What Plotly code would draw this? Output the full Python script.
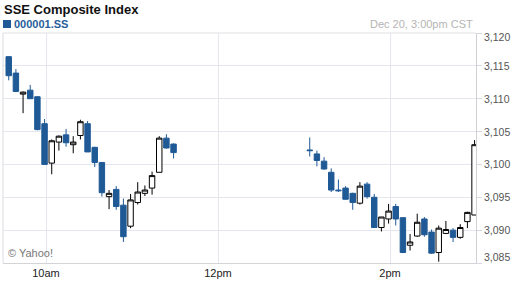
import pandas as pd
import plotly.graph_objects as go

# ---- data ----
day = "2016-12-20"
morning_bar_ends = ["09:35", "09:40", "09:45", "09:50", "09:55", "10:00", "10:05", "10:10",
                    "10:15", "10:20", "10:25", "10:30", "10:35", "10:40", "10:45", "10:50",
                    "10:55", "11:00", "11:05", "11:10", "11:15", "11:20", "11:25", "11:30"]
afternoon_bar_ends = ["13:05", "13:10", "13:15", "13:20", "13:25", "13:30", "13:35", "13:40",
                      "13:45", "13:50", "13:55", "14:00", "14:05", "14:10", "14:15", "14:20",
                      "14:25", "14:30", "14:35", "14:40", "14:45", "14:50", "14:55", "15:00"]

morning_open  = [3116.4, 3113.9, 3110.7, 3111.3, 3110.3, 3106.2, 3100.2, 3103.4, 3104.5, 3103.0, 3104.4, 3106.2,
                 3102.6, 3100.3, 3095.1, 3096.2, 3093.8, 3090.6, 3094.2, 3095.6, 3096.4, 3098.8, 3104.0, 3103.1]
morning_high  = [3116.5, 3114.5, 3111.1, 3112.1, 3110.4, 3106.9, 3103.8, 3104.4, 3105.4, 3104.3, 3106.8, 3106.6,
                 3102.7, 3100.3, 3096.1, 3096.7, 3094.8, 3095.5, 3097.3, 3096.8, 3098.9, 3104.3, 3104.6, 3103.2]
morning_low   = [3112.8, 3111.0, 3107.8, 3110.0, 3105.2, 3100.0, 3098.5, 3102.1, 3102.7, 3101.7, 3103.8, 3101.9,
                 3099.6, 3095.1, 3093.2, 3093.1, 3088.2, 3090.3, 3093.9, 3095.2, 3095.4, 3098.8, 3102.4, 3100.9]
morning_close = [3113.5, 3111.1, 3111.0, 3110.0, 3105.3, 3100.0, 3103.6, 3104.3, 3103.3, 3103.4, 3106.5, 3101.9,
                 3100.3, 3095.7, 3095.6, 3093.6, 3089.0, 3094.6, 3095.8, 3096.1, 3098.3, 3104.0, 3102.5, 3101.8]

afternoon_open  = [3102.2, 3101.6, 3100.5, 3098.8, 3096.1, 3096.4, 3095.6, 3094.1, 3097.0, 3095.0, 3090.4, 3091.7,
                   3093.6, 3091.9, 3087.7, 3089.1, 3091.7, 3089.7, 3086.6, 3089.5, 3090.0, 3088.9, 3091.3, 3092.3]
afternoon_high  = [3104.1, 3102.1, 3101.1, 3099.4, 3097.7, 3096.7, 3095.7, 3097.3, 3097.3, 3095.5, 3092.0, 3094.0,
                   3094.0, 3091.9, 3089.4, 3092.5, 3092.0, 3090.1, 3090.7, 3091.4, 3090.3, 3090.9, 3092.8, 3103.7]
afternoon_low   = [3101.2, 3099.7, 3099.2, 3095.8, 3095.8, 3094.6, 3093.1, 3093.9, 3094.8, 3090.4, 3089.8, 3091.0,
                   3090.7, 3086.5, 3086.9, 3089.0, 3089.0, 3086.4, 3085.2, 3089.4, 3088.2, 3088.7, 3090.3, 3092.3]
afternoon_close = [3102.1, 3100.6, 3099.3, 3096.1, 3096.0, 3094.7, 3094.2, 3096.7, 3095.1, 3090.4, 3092.0, 3092.9,
                   3091.7, 3086.6, 3088.2, 3091.2, 3089.3, 3086.5, 3090.3, 3090.1, 3088.9, 3090.4, 3092.7, 3103.0]

y_tick_values = [3085, 3090, 3095, 3100, 3105, 3110, 3115, 3120]
y_tick_labels = ["3,085", "3,090", "3,095", "3,100", "3,105", "3,110", "3,115", "3,120"]
x_tick_times = ["10:00", "12:00", "14:00"]
x_tick_labels = ["10am", "12pm", "2pm"]

title = "SSE Composite Index"
symbol = "000001.SS"
stamp = "Dec 20, 3:00pm CST"
credit = "© Yahoo!"

# ---- figure ----
BLUE = "#1f5a96"
ends = morning_bar_ends + afternoon_bar_ends
x = [pd.Timestamp(f"{day} {t}") - pd.Timedelta(minutes=1) for t in ends]

fig = go.Figure(go.Candlestick(
    x=x,
    open=morning_open + afternoon_open,
    high=morning_high + afternoon_high,
    low=morning_low + afternoon_low,
    close=morning_close + afternoon_close,
    increasing=dict(line=dict(color="#000000", width=1), fillcolor="#ffffff"),
    decreasing=dict(line=dict(color=BLUE, width=1), fillcolor=BLUE),
    whiskerwidth=0,
    showlegend=False,
    hoverinfo="skip",
))

FONT = "Liberation Sans, Arial, sans-serif"
fig.update_layout(
    width=512, height=288,
    margin=dict(l=3, r=36, t=33, b=25),
    paper_bgcolor="white", plot_bgcolor="white",
    boxgap=0.05, boxgroupgap=0.2,
    font=dict(family=FONT, size=11, color="#222222"),
    xaxis=dict(
        type="date",
        range=[f"{day} 09:30", f"{day} 15:00"],
        rangeslider=dict(visible=False),
        tickvals=[f"{day} {t}" for t in x_tick_times],
        ticktext=x_tick_labels,
        showgrid=True, gridcolor="#e6e6ee", gridwidth=1,
        showline=True, linecolor="#d4d4d8", linewidth=1, mirror=False,
        ticks="",
        tickfont=dict(family=FONT, size=11, color="#222222"),
        zeroline=False, fixedrange=True,
    ),
    yaxis=dict(
        side="right",
        range=[3085, 3120],
        tickvals=y_tick_values,
        showticklabels=False,
        showgrid=True, gridcolor="#e6e6ee", gridwidth=1,
        showline=True, linecolor="#d0d0d4", linewidth=1,
        ticks="outside", ticklen=5, tickcolor="#d8d8de",
        zeroline=False, fixedrange=True,
    ),
)

# left and top border of the plotting frame
fig.add_shape(type="line", xref="paper", yref="paper", x0=0, x1=0, y0=0, y1=1,
              line=dict(color="#dcdce2", width=1))
fig.add_shape(type="line", xref="paper", yref="paper", x0=0, x1=1, y0=1, y1=1,
              line=dict(color="#e0e0e6", width=1))

# y tick labels (end labels nudged inside like the reference)
for v, lab in zip(y_tick_values, y_tick_labels):
    shift = 0
    if v == max(y_tick_values):
        shift = -4
    elif v == min(y_tick_values):
        shift = 6
    fig.add_annotation(xref="paper", yref="y", x=1, y=v, text=lab, showarrow=False,
                       xanchor="left", yanchor="middle", xshift=6, yshift=shift,
                       font=dict(family=FONT, size=10.5, color="#555555"))

# header texts
fig.add_annotation(xref="paper", yref="paper", x=0, y=1, text=f"<b>{title}</b>", showarrow=False,
                   xanchor="left", yanchor="middle", xshift=-1, yshift=24,
                   font=dict(family=FONT, size=13, color="#111111"))
fig.add_shape(type="rect", xref="paper", yref="paper", xsizemode="pixel", ysizemode="pixel",
              xanchor=0, yanchor=1, x0=0, x1=8, y0=5, y1=13,
              line=dict(width=0), fillcolor=BLUE)
fig.add_annotation(xref="paper", yref="paper", x=0, y=1, text=f"<b>{symbol}</b>", showarrow=False,
                   xanchor="left", yanchor="middle", xshift=9, yshift=9,
                   font=dict(family=FONT, size=11, color="#2a5d9a"))
fig.add_annotation(xref="paper", yref="paper", x=1, y=1, text=stamp, showarrow=False,
                   xanchor="right", yanchor="middle", xshift=-1, yshift=9,
                   font=dict(family=FONT, size=11, color="#b4b4b4"))
fig.add_annotation(xref="paper", yref="paper", x=0, y=0, text=credit, showarrow=False,
                   xanchor="left", yanchor="middle", xshift=3, yshift=10,
                   font=dict(family=FONT, size=11, color="#777777"))

fig.write_html("out.html")
